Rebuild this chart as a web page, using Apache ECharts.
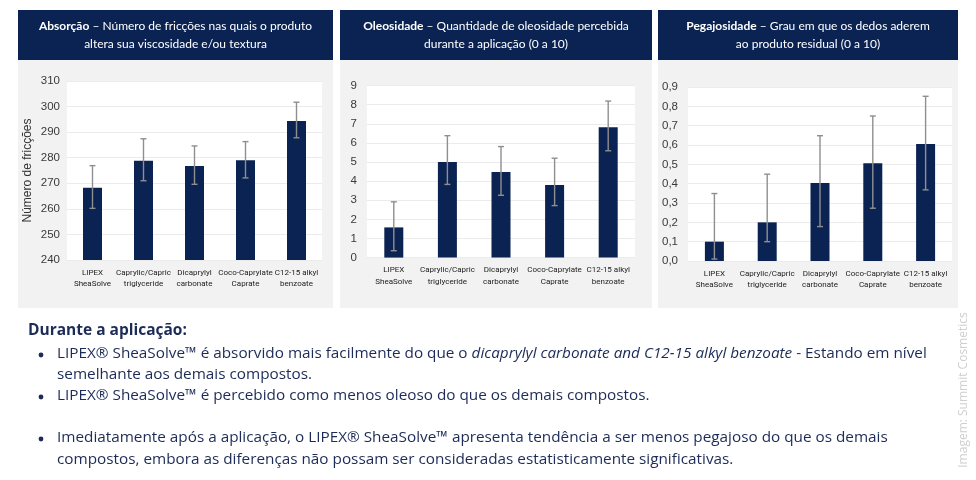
<!DOCTYPE html>
<html>
<head>
<meta charset="utf-8">
<script src="https://cdn.jsdelivr.net/npm/echarts@6/dist/echarts.min.js"></script>
<style>
html,body{margin:0;padding:0;background:#fff;}
#chart{width:976px;height:480px;}
</style>
</head>
<body>
<div id="chart"></div>
<script>
const categories = ['LIPEX\nSheaSolve', 'Caprylic/Capric\ntriglyceride', 'Dicaprylyl\ncarbonate', 'Coco-Caprylate\nCaprate', 'C12-15 alkyl\nbenzoate'];

const absorcaoValues = [268.3, 278.8, 276.8, 279.0, 294.4];
const absorcaoLow = [260.2, 271.0, 269.6, 272.1, 287.8];
const absorcaoHigh = [276.9, 287.4, 284.6, 286.3, 301.7];

const oleosidadeValues = [1.58, 5.0, 4.48, 3.80, 6.82];
const oleosidadeLow = [0.36, 3.83, 3.26, 2.72, 5.59];
const oleosidadeHigh = [2.92, 6.38, 5.81, 5.20, 8.19];

const pegajosidadeValues = [0.10, 0.20, 0.404, 0.506, 0.605];
const pegajosidadeLow = [0.01, 0.10, 0.178, 0.273, 0.368];
const pegajosidadeHigh = [0.349, 0.449, 0.648, 0.750, 0.852];

const axisRanges = [
  {min: 240, max: 310, interval: 10},
  {min: 0, max: 9, interval: 1},
  {min: 0, max: 0.9, interval: 0.1}
];

const titles = [
  ['{b|Absorção} – Número de fricções nas quais o produto', 'altera sua viscosidade e/ou textura'],
  ['{b|Oleosidade} – Quantidade de oleosidade percebida', 'durante a aplicação (0 a 10)'],
  ['{b|Pegajosidade} – Grau em que os dedos aderem', 'ao produto residual (0 a 10)']
];

const NAVY = '#0b2352';
const TEXT = '#1c2b57';

const panels = [
  {x: 18, w: 315, grid: {left: 67, top: 81, width: 255, height: 179}},
  {x: 340, w: 312, grid: {left: 367, top: 85.6, width: 268, height: 172}},
  {x: 658, w: 300, grid: {left: 688, top: 87, width: 264, height: 174}}
];

const seriesData = [
  [absorcaoValues, absorcaoLow, absorcaoHigh],
  [oleosidadeValues, oleosidadeLow, oleosidadeHigh],
  [pegajosidadeValues, pegajosidadeLow, pegajosidadeHigh]
];

const chart = echarts.init(document.getElementById('chart'));

const graphics = [];
panels.forEach((p, i) => {
  graphics.push({type: 'rect', z: -10, shape: {x: p.x, y: 60, width: p.w, height: 248}, style: {fill: '#f2f2f2'}});
  graphics.push({type: 'rect', z: -10, shape: {x: p.x, y: 10, width: p.w, height: 50}, style: {fill: NAVY}});
  graphics.push({
    type: 'text', z: 10, x: p.x + p.w / 2, y: 35,
    style: {
      text: titles[i][0] + '\n' + titles[i][1],
      fill: '#fff', font: '12px Lato', align: 'center', verticalAlign: 'middle', lineHeight: 18,
      rich: {b: {fontWeight: 'bold', fill: '#fff', fontSize: 12, fontFamily: 'Lato', lineHeight: 18}}
    }
  });
});

const bodyFont = '15.3px "Open Sans"';
const bodyLines = [
  {x: 28, y: 331, text: '{bd|Durante a aplicação:}'},
  {x: 57, y: 354, text: 'LIPEX® SheaSolve™ é absorvido mais facilmente do que o {it|dicaprylyl carbonate and C12-15 alkyl benzoate} - Estando em nível'},
  {x: 57, y: 375, text: 'semelhante aos demais compostos.'},
  {x: 57, y: 396, text: 'LIPEX® SheaSolve™ é percebido como menos oleoso do que os demais compostos.'},
  {x: 57, y: 438, text: 'Imediatamente após a aplicação, o LIPEX® SheaSolve™ apresenta tendência a ser menos pegajoso do que os demais'},
  {x: 57, y: 460, text: 'compostos, embora as diferenças não possam ser consideradas estatisticamente significativas.'}
];
bodyLines.forEach(l => {
  graphics.push({
    type: 'text', x: l.x, y: l.y,
    style: {
      text: l.text, font: bodyFont, fill: TEXT, verticalAlign: 'middle', align: 'left',
      rich: {
        it: {fontStyle: 'italic', fontFamily: 'Open Sans', fontSize: 15.3, fill: TEXT},
        bd: {fontWeight: 'bold', fontFamily: 'Open Sans', fontSize: 15.5, fill: TEXT}
      }
    }
  });
});
[354, 396, 438].forEach(y => {
  graphics.push({type: 'circle', shape: {cx: 41, cy: y + 1, r: 2.4}, style: {fill: TEXT}});
});
graphics.push({
  type: 'text', x: 964, y: 390, rotation: Math.PI / 2,
  style: {text: 'Imagem: Summit Cosmetics', font: '12px "Open Sans"', fill: '#cfcfcf', align: 'center', verticalAlign: 'middle'}
});

const grids = [], xAxes = [], yAxes = [], series = [];
panels.forEach((p, i) => {
  grids.push(Object.assign({show: true, backgroundColor: '#ffffff', borderWidth: 0, containLabel: false}, p.grid));
  xAxes.push({
    type: 'category', gridIndex: i, data: categories,
    axisLine: {show: false},
    axisTick: {show: false},
    axisLabel: {color: '#222', fontSize: 8, fontFamily: 'Roboto', lineHeight: 11.5, margin: 7, interval: 0}
  });
  const r = axisRanges[i];
  yAxes.push({
    type: 'value', gridIndex: i, min: r.min, max: r.max, interval: r.interval,
    axisLine: {show: false}, axisTick: {show: false},
    splitLine: {lineStyle: {color: '#ebebeb'}},
    axisLabel: {
      color: '#3a3a3a', fontSize: 11.5, fontFamily: '"Liberation Sans"', margin: i === 0 ? 7 : 10,
      formatter: i === 2 ? (v => v.toFixed(1).replace('.', ',')) : (v => String(v))
    },
    name: i === 0 ? 'Número de fricções' : '',
    nameLocation: 'middle', nameGap: 33, nameRotate: 90,
    nameTextStyle: {color: '#333', fontSize: 12, fontFamily: '"Liberation Sans"'}
  });
  const [vals, lo, hi] = seriesData[i];
  series.push({
    type: 'bar', xAxisIndex: i, yAxisIndex: i, data: vals, barWidth: 19,
    itemStyle: {color: NAVY}, silent: true
  });
  series.push({
    type: 'custom', xAxisIndex: i, yAxisIndex: i, z: 5, silent: true,
    data: vals.map((v, k) => [k, lo[k], hi[k]]),
    renderItem: function (params, api) {
      const x = api.value(0);
      const a = api.coord([x, api.value(1)]);
      const b = api.coord([x, api.value(2)]);
      const w = 3;
      const st = {stroke: '#8f8f8f', lineWidth: 1.4};
      return {
        type: 'group',
        children: [
          {type: 'line', shape: {x1: a[0], y1: a[1], x2: b[0], y2: b[1]}, style: st},
          {type: 'line', shape: {x1: a[0] - w, y1: a[1], x2: a[0] + w, y2: a[1]}, style: st},
          {type: 'line', shape: {x1: b[0] - w, y1: b[1], x2: b[0] + w, y2: b[1]}, style: st}
        ]
      };
    }
  });
});

chart.setOption({
  animation: false,
  backgroundColor: '#ffffff',
  graphic: graphics,
  grid: grids,
  xAxis: xAxes,
  yAxis: yAxes,
  series: series
});
</script>
</body>
</html>
